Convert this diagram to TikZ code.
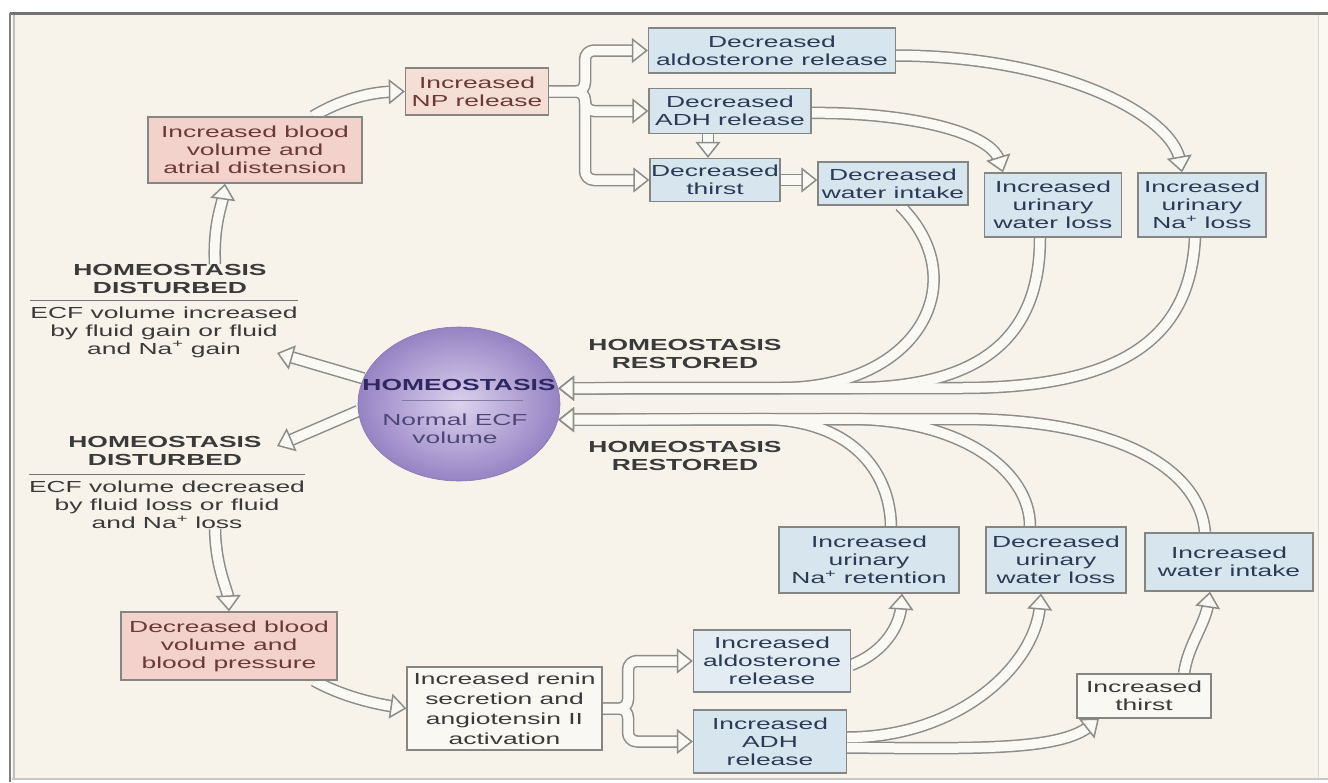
\documentclass[tikz,border=0pt]{standalone}
\usepackage{fontspec}
\setmainfont{Liberation Sans}[FakeStretch=1.65]
\usetikzlibrary{shapes.geometric,arrows.meta,calc}

\definecolor{paper}{HTML}{F7F3EA}
\definecolor{paperlite}{HTML}{FBF8F2}
\definecolor{arrowedge}{HTML}{8C8C89}
\definecolor{arrowfill}{HTML}{FBF9F4}
\definecolor{boxline}{HTML}{858583}
\definecolor{pinkfill}{HTML}{F2D2CB}
\definecolor{pinklite}{HTML}{F4DED6}
\definecolor{pinktext}{HTML}{6B3A36}
\definecolor{bluefill}{HTML}{D7E5EE}
\definecolor{bluelite}{HTML}{E2ECF2}
\definecolor{bluetext}{HTML}{2B3A55}
\definecolor{whitefill}{HTML}{FAF8F3}
\definecolor{labeltext}{HTML}{3A3A3A}
\definecolor{homin}{HTML}{DCD2EE}
\definecolor{homout}{HTML}{9683C4}
\definecolor{homtext}{HTML}{2E2760}

\pgfdeclarelayer{back}
\pgfdeclarelayer{links}
\pgfsetlayers{back,links,main}

% hollow (outlined) arrows: all outlines first, then all interiors, then heads,
% so that arrows sharing a trunk merge into one band
\newcommand\hollowpass[2]{\draw[#2] #1;}
\newcommand\hollowgroup[1]{%
  \foreach \hp in {#1}{\expandafter\hollowpass\expandafter{\hp}{hout}}%
  \foreach \hp in {#1}{\expandafter\hollowpass\expandafter{\hp}{hin}}%
  \foreach \hp in {#1}{\expandafter\hollowpass\expandafter{\hp}{hhead}}}

\tikzset{
  txt/.style={font=\fontsize{16}{18}\selectfont},
  sz/.style 2 args={minimum width=#1pt, minimum height=#2pt},
  box/.style={txt, draw=boxline, line width=1.3pt, align=center, inner sep=0pt, rectangle},
  pinkbox/.style={box, fill=pinkfill, text=pinktext},
  nprbox/.style={box, fill=pinklite, text=pinktext},
  bluebox/.style={box, fill=bluefill, text=bluetext},
  litebox/.style={box, fill=bluelite, text=bluetext},
  whitebox/.style={box, fill=whitefill, text=labeltext},
  lbl/.style={txt, align=center, inner sep=0pt, text=labeltext},
  lblb/.style={lbl, font=\fontsize{16}{18}\selectfont\bfseries},
  hout/.style={draw=arrowedge, line width=12.5pt, shorten >=12pt, line join=round},
  hin/.style={draw=arrowfill, line width=9.5pt, shorten >=12pt, line join=round},
  hhead/.style={draw=arrowfill, line width=0.1pt,
      -{Triangle[length=16pt, width=25pt, line width=1.5pt, color=arrowedge, fill=arrowfill]}},
}

\begin{document}
\begin{tikzpicture}[x=1pt, y=-1pt]
\useasboundingbox (0,0) rectangle (1328,782);

% page and frame
\begin{pgfonlayer}{back}
  \fill[white] (0,0) rectangle (1328,782);
  \fill[paper] (12,14) rectangle (1318,778);
  \fill[paperlite] (1318,14) rectangle (1328,778);
  \draw[black!55, line width=3pt] (10,13) -- (1328,13);
  \draw[black!50, line width=2pt] (10,13) -- (10,782);
  \draw[black!25, line width=1.5pt] (14,15) -- (14,778);
  \draw[black!15, line width=1pt] (1318,15) -- (1318,778);
  \draw[black!22, line width=2pt] (12,779) -- (1328,779);
\end{pgfonlayer}

% central state
\node[ellipse, sz={202}{154}, inner sep=0pt, draw=homout!90!black, line width=0.6pt,
      shading=radial, inner color=homin, outer color=homout] (hom) at (459,404) {};
\node[txt, font=\fontsize{16}{18}\selectfont\bfseries, text=homtext, inner sep=0pt] (homA) at (459,385) {HOMEOSTASIS};
\node[txt, align=center, text=homtext!85, inner sep=0pt] (homB) at (455,429) {Normal ECF\\volume};
\draw[homtext!60, line width=1pt] ([xshift=-57pt,yshift=4pt]hom.center) -- ([xshift=64pt,yshift=4pt]hom.center);

% disturbance labels
\node[lblb] (dt1) at (170,279) {HOMEOSTASIS\\DISTURBED};
\node[lbl] (dd1) at (164,332) {ECF volume increased\\by fluid gain or fluid\\and Na\textsuperscript{+} gain};
\draw[labeltext!70, line width=1pt] ([yshift=6pt]dd1.north west) -- ([yshift=6pt]dd1.north east);
\node[lblb] (dt2) at (165,451) {HOMEOSTASIS\\DISTURBED};
\node[lbl] (dd2) at (167,505) {ECF volume decreased\\by fluid loss or fluid\\and Na\textsuperscript{+} loss};
\draw[labeltext!70, line width=1pt] ([yshift=6pt]dd2.north west) -- ([yshift=6pt]dd2.north east);

\node[lblb] (hr1) at (685,354) {HOMEOSTASIS\\RESTORED};
\node[lblb] (hr2) at (685,456) {HOMEOSTASIS\\RESTORED};

% increased ECF volume branch
\node[pinkbox, sz={214}{66}] (bloodUp) at (255,150) {Increased blood\\volume and\\atrial distension};
\node[nprbox, sz={143}{47}] (np) at (477,91.5) {Increased\\NP release};
\node[bluebox, sz={247}{45}] (aldoD) at (772,50.5) {Decreased\\aldosterone release};
\node[bluebox, sz={162}{45}] (adhD) at (730,111) {Decreased\\ADH release};
\node[bluebox, sz={130}{43}] (thirstD) at (715,180) {Decreased\\thirst};
\node[bluebox, sz={150}{43}] (waterD) at (893,183.5) {Decreased\\water intake};
\node[bluebox, sz={137}{64}] (urwl) at (1053,205) {Increased\\urinary\\water loss};
\node[bluebox, sz={128}{64}] (urna) at (1202,205) {Increased\\urinary\\Na\textsuperscript{+} loss};

% decreased ECF volume branch
\node[pinkbox, sz={216}{68}] (decBlood) at (229,646) {Decreased blood\\volume and\\blood pressure};
\node[whitebox, sz={195}{83}, font=\fontsize{16}{20}\selectfont] (renin) at (504.5,708.5) {Increased renin\\secretion and\\angiotensin II\\activation};
\node[litebox, sz={157}{62}] (aldoInc) at (772,661) {Increased\\aldosterone\\release};
\node[bluebox, sz={153}{63}] (adhInc) at (770,741.5) {Increased\\ADH\\release};
\node[bluebox, sz={180}{66}] (naRet) at (869,560) {Increased\\urinary\\Na\textsuperscript{+} retention};
\node[bluebox, sz={140}{66}] (urwlDec) at (1056,560) {Decreased\\urinary\\water loss};
\node[bluebox, sz={168}{58}] (wiInc) at (1229,562) {Increased\\water intake};
\node[whitebox, sz={134}{44}] (thirstInc) at (1144,696) {Increased\\thirst};

% junctions and free ends
\coordinate (npf) at (585,91.5);
\coordinate (rnf) at (628,708.5);
\coordinate (gainTip) at (277,353);
\coordinate (lossTip) at (277,446);

\begin{pgfonlayer}{links}
  % from the central state to each disturbance
  \hollowgroup{{(hom.165) -- (gainTip)}}
  \hollowgroup{{(hom.184) -- (lossTip)}}
  \hollowgroup{{([xshift=45pt]dt1.north) .. controls (213,225) and (222,205) .. ([xshift=-30pt]bloodUp.south)}}
  \hollowgroup{{([xshift=48pt]dd2.south) .. controls (216,570) and (228,590) .. (decBlood.north)}}

  % increased volume responses
  \hollowgroup{{([xshift=58pt]bloodUp.north) .. controls (340,100) and (370,92) .. (np.west)}}
  \hollowgroup{{[rounded corners=9pt] (np.east) -- (npf) -- (npf |- aldoD.west) -- (aldoD.west)},
               {[rounded corners=9pt] (np.east) -- (npf) -- (npf |- adhD.west) -- (adhD.west)},
               {[rounded corners=9pt] (np.east) -- (npf) -- (npf |- thirstD.west) -- (thirstD.west)}}
  \hollowgroup{{([xshift=-22pt]adhD.south) -- ([xshift=-22pt]adhD.south |- thirstD.north)}}
  \hollowgroup{{(thirstD.east) -- (thirstD.east -| waterD.west)}}
  \hollowgroup{{([yshift=-5pt]aldoD.east) .. controls (1060,56) and (1172,115) .. ([xshift=-20pt]urna.north)}}
  \hollowgroup{{([yshift=-2pt]adhD.east) .. controls (900,112) and (990,130) .. ([xshift=-50pt]urwl.north)}}

  % back to normal ECF volume (from above)
  \hollowgroup{{([xshift=7pt]waterD.south) .. controls (975,280) and (920,388) .. (780,388) -- (hom.9)},
               {([xshift=-13pt]urwl.south) .. controls (1040,330) and (990,388) .. (850,388) -- (hom.9)},
               {([xshift=-7pt]urna.south) .. controls (1190,340) and (1120,388) .. (960,388) -- (hom.9)}}

  % decreased volume responses
  \hollowgroup{{([xshift=85pt]decBlood.south) .. controls (340,695) and (370,703) .. (renin.west)}}
  \hollowgroup{{[rounded corners=9pt] (renin.east) -- (rnf) -- (rnf |- aldoInc.west) -- (aldoInc.west)},
               {[rounded corners=9pt] (renin.east) -- (rnf) -- (rnf |- adhInc.west) -- (adhInc.west)}}
  \hollowgroup{{([yshift=-4pt]aldoInc.east) .. controls (885,652) and (900,625) .. ([xshift=33pt]naRet.south)}}
  \hollowgroup{{([yshift=4pt]adhInc.east) .. controls (960,737) and (1035,665) .. ([xshift=-15pt]urwlDec.south)},
               {([yshift=-6pt]adhInc.east) .. controls (980,749) and (1060,750) .. ([xshift=-45pt]thirstInc.south)}}
  \hollowgroup{{([xshift=40pt]thirstInc.north) .. controls (1188,645) and (1205,625) .. ([xshift=-19pt]wiInc.south)}}

  % back to normal ECF volume (from below)
  \hollowgroup{{([xshift=-24pt]wiInc.north) .. controls (1200,470) and (1120,419) .. (960,419) -- (hom.-9)},
               {([xshift=-26pt]urwlDec.north) .. controls (1030,470) and (960,419) .. (850,419) -- (hom.-9)},
               {([xshift=22pt]naRet.north) .. controls (890,470) and (850,419) .. (760,419) -- (hom.-9)}}
\end{pgfonlayer}
\end{tikzpicture}
\end{document}
